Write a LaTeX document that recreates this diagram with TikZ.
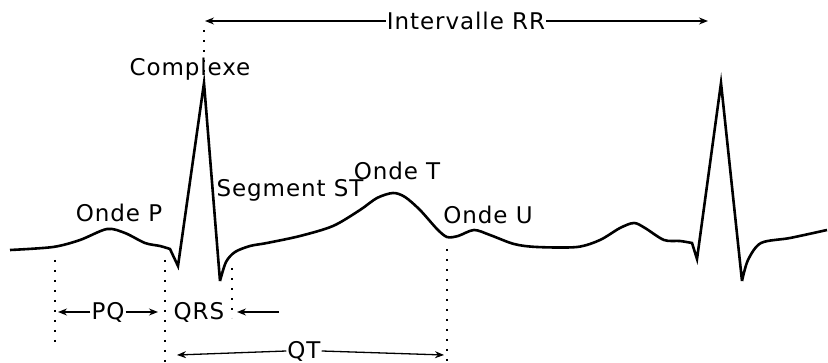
\documentclass[tikz,border=0pt]{standalone}
\usepackage{fontspec}
\setmainfont{DejaVu Sans}[LetterSpace=4]
\usetikzlibrary{arrows.meta}
\begin{document}
\begin{tikzpicture}[x=1pt,y=-1pt,
  wave/.style={line width=2.6pt,line join=miter,miter limit=20},
  lbl/.style={font=\fontsize{23}{26}\selectfont,inner sep=1pt},
  dim/.style={line width=1.3pt,-{Stealth[length=9pt,width=7pt]}},
  guide/.style={line width=1.6pt,dash pattern=on 1.6pt off 8.4pt}]
\useasboundingbox (0,0) rectangle (828,363);
% waveform
\coordinate (R1) at (204,83);
\coordinate (R2) at (721,83);
\draw[wave] plot[smooth,tension=0.5] coordinates {(10,250) (53,247) (80,240) (107,229) (125,233) (145,243) (160,246) (170,249)}
  -- (178,266) -- (R1) -- (220,281)
  plot[smooth,tension=0.5] coordinates {(220,281) (226,262) (235,252) (250,246) (267,243) (300,236) (333,226) (360,210) (377,198) (393,193) (405,197) (420,210) (437,229) (447,237) (458,236) (474,230) (490,235) (514,244) (537,247) (577,247) (600,240) (620,228) (634,223) (645,228) (664,240) (680,241) (692,243)}
  -- (697,259) -- (R2) -- (742,281)
  plot[smooth,tension=0.5] coordinates {(742,281) (748,260) (761,243) (790,238) (827,230)};
% labels
\node[lbl] (compl) at (190,69) {Complexe};
\node[lbl] (ondeP) at (119,213) {Onde P};
\node[lbl] (segST) at (290,190) {Segment ST};
\node[lbl] (ondeT) at (397,171) {Onde T};
\node[lbl] (ondeU) at (488,215) {Onde U};
\node[lbl] (rr) at (466,21) {Intervalle RR};
\node[lbl] (pq) at (108,312) {PQ};
\node[lbl] (qrs) at (199,312) {QRS};
\node[lbl] (qt) at (304,351) {QT};
% guides
\coordinate (g0a) at (204,30);
\coordinate (g1a) at (55,260); \coordinate (g1b) at (55,343);
\coordinate (g2a) at (165,260); \coordinate (g2b) at (165,363);
\coordinate (g3a) at (232,268); \coordinate (g3b) at (232,318);
\coordinate (g4a) at (447,249); \coordinate (g4b) at (447,363);
\draw[guide] (g0a) -- (R1);
\draw[guide] (g1a) -- (g1b);
\draw[guide] (g2a) -- (g2b);
\draw[guide] (g3a) -- (g3b);
\draw[guide] (g4a) -- (g4b);
% dimension arrows
\coordinate (rrL) at (205,21); \coordinate (rrR) at (708,21);
\draw[dim] (rr.west) -- (rrL);
\draw[dim] (rr.east) -- (rrR);
\coordinate (pqL) at (58,312); \coordinate (pqR) at (158,312);
\draw[dim] (pq.west) -- (pqL);
\draw[dim] (pq.east) -- (pqR);
\coordinate (qrsS) at (279,312); \coordinate (qrsE) at (237,312);
\draw[dim] (qrsS) -- (qrsE);
\coordinate (qtL) at (177,355); \coordinate (qtR) at (444,355);
\draw[dim] (qt.west) -- (qtL);
\draw[dim] (qt.east) -- (qtR);
\end{tikzpicture}
\end{document}
